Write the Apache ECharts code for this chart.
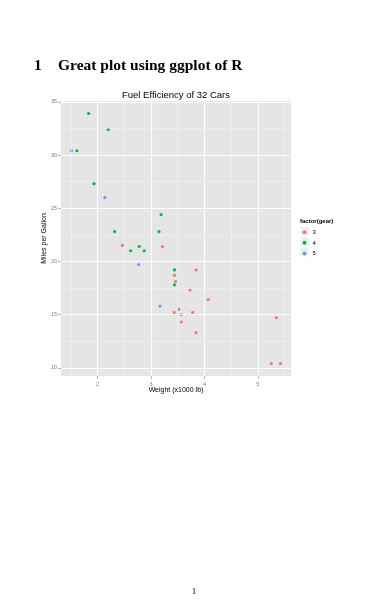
<!DOCTYPE html>
<html><head><meta charset="utf-8">
<script src="https://cdn.jsdelivr.net/npm/echarts@6/dist/echarts.min.js"></script>
<style>html,body{margin:0;padding:0;background:#fff}#c{width:375px;height:610px}</style>
</head><body><div id="c"></div>
<script>
// mtcars: weight (x1000 lb) and mpg, grouped by gear
const gearLevels = ['3', '4', '5'];
const wt3 = [3.215, 3.440, 3.460, 3.570, 4.070, 3.730, 3.780, 5.250, 5.424, 5.345, 2.465, 3.520, 3.435, 3.840, 3.845];
const mpg3 = [21.4, 18.7, 18.1, 14.3, 16.4, 17.3, 15.2, 10.4, 10.4, 14.7, 21.5, 15.5, 15.2, 13.3, 19.2];
const wt4 = [2.620, 2.875, 2.320, 3.190, 3.150, 3.440, 3.440, 2.200, 1.615, 1.835, 1.935, 2.780];
const mpg4 = [21.0, 21.0, 22.8, 24.4, 22.8, 19.2, 17.8, 32.4, 30.4, 33.9, 27.3, 21.4];
const wt5 = [2.140, 1.513, 3.170, 2.770, 3.570];
const mpg5 = [26.0, 30.4, 15.8, 19.7, 15.0];
const xTicks = [2, 3, 4, 5];
const xMinor = [1.5, 2.5, 3.5, 4.5, 5.5];
const yTicks = [10, 15, 20, 25, 30, 35];
const yMinor = [12.5, 17.5, 22.5, 27.5, 32.5];
const xRange = [1.31745, 5.61955];
const yRange = [9.225, 35.075];

const colors = ['#F8766D', '#00BA38', '#619CFF'];
const FONT = '"Liberation Sans", Arial, sans-serif';
const zip = (a, b) => a.map((v, i) => [v, b[i]]);
const groups = [zip(wt3, mpg3), zip(wt4, mpg4), zip(wt5, mpg5)];

const chart = echarts.init(document.getElementById('c'), null, {renderer: 'canvas'});

const gridLines = [];
xMinor.forEach(v => gridLines.push({xAxis: v, lineStyle: {color: '#F2F2F2', width: 0.6}}));
yMinor.forEach(v => gridLines.push({yAxis: v, lineStyle: {color: '#F2F2F2', width: 0.6}}));
xTicks.forEach(v => gridLines.push({xAxis: v, lineStyle: {color: '#FFFFFF', width: 1.1}}));
yTicks.forEach(v => gridLines.push({yAxis: v, lineStyle: {color: '#FFFFFF', width: 1.1}}));

const series = [{
  type: 'line', data: [], z: 1, silent: true,
  markLine: {silent: true, symbol: ['none', 'none'], animation: false,
    label: {show: false}, lineStyle: {type: 'solid'}, data: gridLines}
}];
groups.forEach((g, i) => series.push({
  name: gearLevels[i], type: 'scatter', data: g, z: 3,
  symbol: 'circle', symbolSize: 3.2,
  itemStyle: {color: colors[i], opacity: 1}
}));

const keyBoxes = gearLevels.map((n, i) => ({
  type: 'rect', z: 0, silent: true,
  shape: {x: 300, y: 226.5 + i * 10.6, width: 9, height: 9},
  style: {fill: '#F0F0F0', stroke: '#FFFFFF', lineWidth: 0.5}
}));

chart.setOption({
  animation: false,
  backgroundColor: '#fff',
  grid: {left: 61, top: 101, width: 230, height: 275, show: true,
    backgroundColor: '#E5E5E5', borderWidth: 0},
  xAxis: {type: 'value', min: xRange[0], max: xRange[1],
    name: 'Weight (x1000 lb)', nameLocation: 'middle', nameGap: 10.5, nameMoveOverlap: false,
    nameTextStyle: {fontFamily: FONT, fontSize: 7, color: '#000'},
    axisLine: {show: false}, splitLine: {show: false},
    axisTick: {show: true, length: 3, lineStyle: {color: '#7F7F7F', width: 0.6}, customValues: xTicks},
    axisLabel: {customValues: xTicks, fontFamily: FONT, fontSize: 5.5, color: '#7F7F7F', margin: 5}},
  yAxis: {type: 'value', min: yRange[0], max: yRange[1],
    name: 'Miles per Gallon', nameLocation: 'middle', nameGap: 13, nameRotate: 90, nameMoveOverlap: false,
    nameTextStyle: {fontFamily: FONT, fontSize: 7, color: '#000'},
    axisLine: {show: false}, splitLine: {show: false},
    axisTick: {show: true, length: 3, lineStyle: {color: '#7F7F7F', width: 0.6}, customValues: yTicks},
    axisLabel: {customValues: yTicks, fontFamily: FONT, fontSize: 5.5, color: '#7F7F7F', margin: 4}},
  legend: {show: true, orient: 'vertical', left: 302.5, top: 228.5, z: 5,
    data: gearLevels.map(n => ({name: n, icon: 'circle'})),
    itemWidth: 4, itemHeight: 4, itemGap: 3.1, selectedMode: false,
    textStyle: {fontFamily: FONT, fontSize: 6, color: '#000', lineHeight: 7.5, padding: [0, 0, 0, 1]},
    padding: 0},
  graphic: [
    ...keyBoxes,
    {type: 'text', left: 34, top: 58, style: {text: '1', font: 'bold 15.5px "Liberation Serif", serif', fill: '#000'}},
    {type: 'text', left: 58, top: 58, style: {text: 'Great plot using ggplot of R', font: 'bold 15.5px "Liberation Serif", serif', fill: '#000'}},
    {type: 'text', x: 176, y: 95, style: {text: 'Fuel Efficiency of 32 Cars', font: '9.5px "Liberation Sans", Arial, sans-serif', fill: '#000', align: 'center', verticalAlign: 'middle'}},
    {type: 'text', left: 300, top: 218.5, style: {text: 'factor(gear)', font: 'bold 6px "Liberation Sans", Arial, sans-serif', fill: '#000'}},
    {type: 'text', x: 194, y: 592, style: {text: '1', font: '9px "Liberation Serif", serif', fill: '#000', align: 'center', verticalAlign: 'middle'}}
  ],
  series: series
});
</script></body></html>
